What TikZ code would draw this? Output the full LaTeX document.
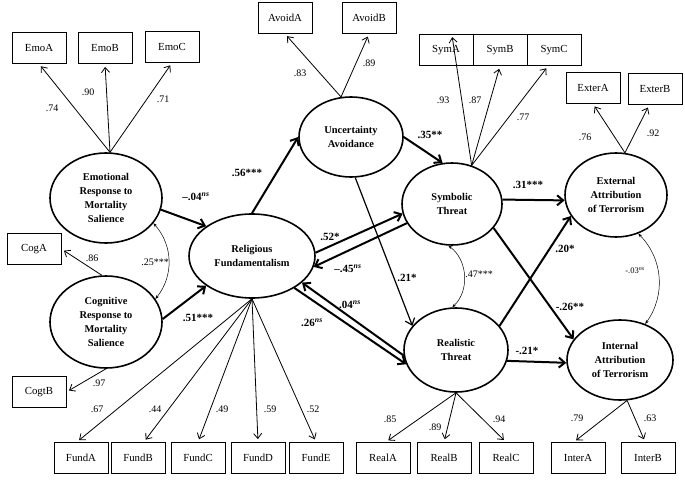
\documentclass[tikz,border=0pt]{standalone}
\usepackage{fontspec}
\setmainfont{Liberation Serif}
\usetikzlibrary{arrows.meta, shapes.geometric}

\newcommand{\nsup}{\textsuperscript{\itshape ns}}

\begin{document}
\begin{tikzpicture}[x=1pt, y=-1pt,
  item/.style={draw, line width=0.8pt, minimum width=54pt, minimum height=31pt, inner sep=0pt, font=\fontsize{10.8}{12}\selectfont},
  factor/.style={draw, ellipse, line width=1.6pt, inner sep=0pt, align=center, font=\fontsize{10.4}{13.8}\selectfont\bfseries},
  load/.style={line width=0.8pt, -{Straight Barb[length=5pt,width=8pt]}, shorten >=3pt},
  effect/.style={line width=2pt, -{Straight Barb[length=6pt,width=10pt]}},
  corr/.style={line width=0.5pt, {Stealth[length=4pt,width=3pt]}-{Stealth[length=4pt,width=3pt]}},
  coef/.style={font=\fontsize{10}{12}\selectfont},
  beta/.style={font=\fontsize{11}{13}\selectfont\bfseries}]
\useasboundingbox (0,0) rectangle (685,481);

% observed indicators
\node[item] (emoA) at (39,48) {EmoA};
\node[item] (emoB) at (105,48) {EmoB};
\node[item] (emoC) at (172,47) {EmoC};
\node[item] (avA) at (285,18) {AvoidA};
\node[item] (avB) at (369,18) {AvoidB};
\node[item] (symA) at (446,50) {SymA};
\node[item] (symB) at (500,50) {SymB};
\node[item] (symC) at (554,50) {SymC};
\node[item] (exA) at (593,88) {ExterA};
\node[item] (exB) at (655,89) {ExterB};
\node[item] (cogA) at (34,249) {CogA};
\node[item] (cogB) at (39,392) {CogtB};
\node[item] (fundA) at (81,458) {FundA};
\node[item] (fundB) at (138,458) {FundB};
\node[item] (fundC) at (198,458) {FundC};
\node[item] (fundD) at (258,458) {FundD};
\node[item] (fundE) at (316,458) {FundE};
\node[item] (realA) at (383,458) {RealA};
\node[item] (realB) at (444,458) {RealB};
\node[item] (realC) at (506,458) {RealC};
\node[item] (intA) at (578,458) {InterA};
\node[item] (intB) at (648,458) {InterB};

% latent factors
\node[factor, minimum width=112pt, minimum height=90pt] (emo) at (106,198) {Emotional\\Response to\\Mortality\\Salience};
\node[factor, minimum width=112pt, minimum height=92pt] (cog) at (106,322) {Cognitive\\Response to\\Mortality\\Salience};
\node[factor, minimum width=126pt, minimum height=84pt] (rel) at (252,256) {Religious\\Fundamentalism};
\node[factor, minimum width=104pt, minimum height=80pt] (unc) at (351,137) {Uncertainty\\Avoidance};
\node[factor, minimum width=100pt, minimum height=82pt] (sym) at (452,204) {Symbolic\\Threat};
\node[factor, minimum width=104pt, minimum height=84pt] (real) at (456,350) {Realistic\\Threat};
\node[factor, minimum width=102pt, minimum height=84pt] (ext) at (616,195) {External\\Attribution\\of Terrorism};
\node[factor, minimum width=106pt, minimum height=80pt] (int) at (620,360) {Internal\\Attribution\\of Terrorism};

% loadings
\foreach \t in {emoA,emoB,emoC}
  \draw[load] (emo.85) -- (\t.south);
\draw[load] (unc.104) -- (avA.south);
\draw[load] (unc.104) -- (avB.south);
\draw[load] (sym.63) -- (symA.70);
\draw[load] (sym.63) -- (symB.south);
\draw[load] (sym.63) -- (symC.-110);
\draw[load] (ext.78) -- (exA.south);
\draw[load] (ext.78) -- (exB.-110);
\draw[load] (cog.95) -- (cogA.east);
\draw[load] (cog.south) -- (cogB.east);
\foreach \t/\a in {fundA/105, fundB/70, fundC/north, fundD/north, fundE/north}
  \draw[load] (rel.south) -- (\t.\a);
\foreach \t/\a in {realA/80, realB/north, realC/north}
  \draw[load] (real.south) -- (\t.\a);
\draw[load] (int.-80) -- (intA.105);
\draw[load] (int.-80) -- (intB.100);

\node[coef] (l74) at (52,108) {.74};
\node[coef] (l90) at (88,92) {.90};
\node[coef] (l71) at (163,99) {.71};
\node[coef] (l83) at (300,73) {.83};
\node[coef] (l89) at (369,63) {.89};
\node[coef] (l93) at (443,100) {.93};
\node[coef] (l87) at (475,100) {.87};
\node[coef] (l77) at (523,117) {.77};
\node[coef] (l76) at (585,137) {.76};
\node[coef] (l92) at (653,133) {.92};
\node[coef] (l86) at (92,258) {.86};
\node[coef] (l97) at (99,383) {.97};
\node[coef] (l67) at (97,409) {.67};
\node[coef] (l44) at (155,409) {.44};
\node[coef] (l49) at (222,409) {.49};
\node[coef] (l59) at (270,409) {.59};
\node[coef] (l52) at (313,409) {.52};
\node[coef] (l85) at (390,419) {.85};
\node[coef] (l89b) at (435,427) {.89};
\node[coef] (l94) at (499,419) {.94};
\node[coef] (l79) at (577,418) {.79};
\node[coef] (l63) at (650,418) {.63};

% structural paths
\draw[effect] (emo.-12) -- (rel.147);
\draw[effect] (cog.3) -- (rel.213);
\draw[effect] (rel.north) -- (unc.west);
\draw[effect] (unc.east) -- (sym.103);
\draw[effect, line width=1.2pt] (unc.-84) -- (real.151);
\draw[effect] (rel.3) -- (sym.191);
\draw[effect] (sym.203) -- (rel.-10);
\draw[effect] (real.186) -- (rel.-28);
\draw[effect] (rel.-37) -- (real.196);
\draw[effect] (sym.5) -- (ext.186);
\draw[effect] (sym.-30) -- (int.156);
\draw[effect] (real.29) -- (ext.205);
\draw[effect] (real.-12) -- (int.183);

\node[beta] (b04) at (196,197) {--.04\nsup};
\node[beta] (b51) at (198,318) {.51***};
\node[beta] (b56) at (247,173) {.56***};
\node[beta] (b35) at (430,135) {.35**};
\node[beta] (b21) at (407,278) {.21*};
\node[beta] (b52) at (330,237) {.52*};
\node[beta] (b45) at (348,269) {--.45\nsup};
\node[beta] (b04b) at (350,305) {.04\nsup};
\node[beta] (b26) at (312,323) {.26\nsup};
\node[beta] (b31) at (528,185) {.31***};
\node[beta] (b26b) at (570,307) {-.26**};
\node[beta] (b20) at (565,249) {.20*};
\node[beta] (b21b) at (527,351) {-.21*};

% correlations
\draw[corr] (emo.-28) to[bend left=40] (cog.25);
\draw[corr] (sym.-95) to[bend left=50] (real.95);
\draw[corr] (ext.-60) to[bend left=40] (int.55);
\node[coef] (c25) at (155,262) {.25***};
\node[coef] (c47) at (479,274) {.47***};
\node[coef, font=\fontsize{8.5}{10}\selectfont] (c03) at (635,271) {-.03\nsup};
\end{tikzpicture}
\end{document}
